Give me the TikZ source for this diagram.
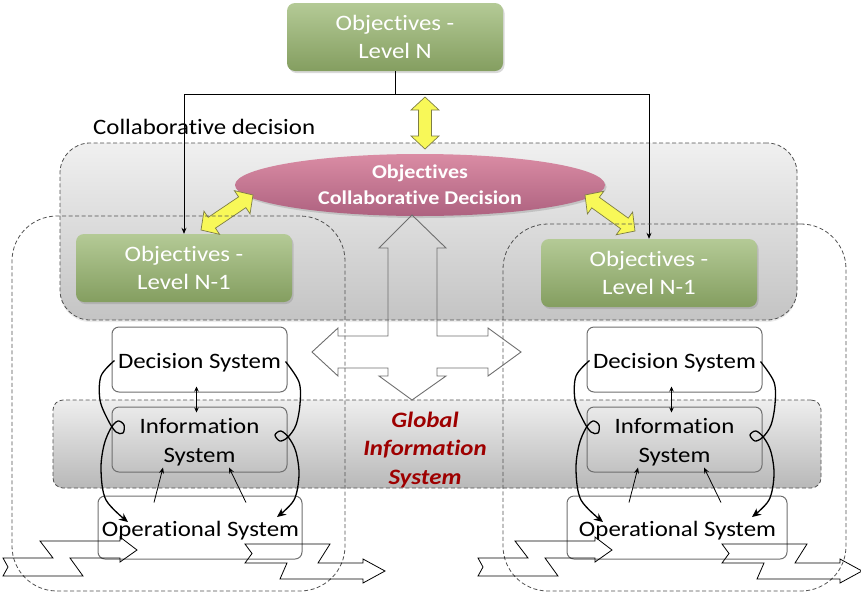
\documentclass[tikz,border=0pt]{standalone}
\usepackage{fontspec}
\setmainfont{Carlito}[FakeStretch=1.13, Ligatures=NoCommon]
\usetikzlibrary{shadows,arrows.meta,calc,shapes.geometric}
\definecolor{gtop}{RGB}{180,202,150}
\definecolor{gbot}{RGB}{132,158,96}
\definecolor{ptop}{RGB}{218,140,164}
\definecolor{pbot}{RGB}{174,98,128}
\definecolor{ctop}{RGB}{240,240,240}
\definecolor{cbot}{RGB}{196,196,196}
\definecolor{itop}{RGB}{238,238,238}
\definecolor{ibot}{RGB}{184,184,184}
\definecolor{dashc}{RGB}{80,80,80}
\definecolor{boxc}{RGB}{110,110,110}
\definecolor{yfill}{RGB}{248,248,88}
\definecolor{yedge}{RGB}{125,125,70}
\definecolor{gisred}{RGB}{158,0,0}
\definecolor{quadc}{RGB}{110,110,110}

\newcommand\myzigA[1]{\draw[zig, xshift=#1] (3,558) -- (8,567) -- (3,576) -- (83,576) -- (70,558) -- (120,558) -- (120,562) -- (137,550) -- (120,537) -- (120,541) -- (40,541) -- (53,558) -- cycle;}
\newcommand\myzigB[1]{\draw[zig, xshift=#1] (245,544) -- (252,553.5) -- (245,563) -- (287,563) -- (280,579) -- (363,579) -- (363,583) -- (385,571) -- (363,559) -- (363,563) -- (318,563) -- (330,544) -- cycle;}

\newcommand\mysub[4]{%
\begin{scope}[xshift=#2]
\node[sysbox, minimum width=175, minimum height=65] (#1ds) at (199.5,359.5) {};
\node[sysbox, minimum width=175, minimum height=65] (#1is) at (199.5,439.5) {};
\node[sysbox, minimum width=#4, minimum height=63] (#1os) at (#3,527.5) {};
\node[systext] (#1dst) at ($(#1ds)+(0,3)$) {Decision System};
\node[systext] (#1ist) at ($(#1is)+(0,3)$) {Information\\System};
\node[systext] (#1ost) at ($(#1os)+(0.5,3)$) {Operational System};
\draw[thinarr, {Stealth[length=5pt,width=4.5pt]}-{Stealth[length=5pt,width=4.5pt]}] ($(#1ds.south)+(-3,-6)$) -- ($(#1is.north)+(-3,6)$);
\draw[thinarr] ($(#1os.north)+(154-#3,7)$) -- ($(#1is.south)+(-36.5,-5)$);
\draw[thinarr] ($(#1os.north)+(246-#3,7)$) -- ($(#1is.south)+(29.5,-5)$);
\draw[curvy] plot[smooth, tension=0.55] coordinates {($(#1ds.west)+(3,1)$) (101,376) (100,400) (108,420) (116,432) (123,433) (124,425) (118,421) (111,428) (104,445) (101,470) (106,500) (128,522)};
\draw[curvy] plot[smooth, tension=0.55] coordinates {($(#1ds.east)+(-2,2)$) (299,382) (300,404) (296,425) (288,437) (280,441) (275,435) (281,431) (289,438) (296,452) (299,475) (294,500) (277,517)};
\end{scope}}

\begin{document}
\begin{tikzpicture}[x=1pt,y=-1pt,
  txt/.style={font=\fontsize{22}{28}\selectfont},
  greenbox/.style={rounded corners=8pt, top color=gtop, bottom color=gbot, text=white,
    minimum width=216, minimum height=68, inner sep=0, align=center, txt,
    drop shadow={opacity=0.3, shadow xshift=1.5pt, shadow yshift=-2pt}},
  dashline/.style={draw=dashc, line width=0.8pt, dash pattern=on 4pt off 2.5pt},
  collabbox/.style={dashline, rounded corners=30pt, top color=ctop, bottom color=cbot, inner sep=0,
    drop shadow={opacity=0.15, shadow xshift=0pt, shadow yshift=-2pt}},
  gisbox/.style={dashline, rounded corners=10pt, top color=itop, bottom color=ibot, inner sep=0},
  region/.style={dashline, rounded corners=45pt, inner sep=0},
  sysbox/.style={draw=boxc, line width=1pt, rounded corners=7pt, inner sep=0},
  systext/.style={align=center, inner sep=0, font=\fontsize{22}{29}\selectfont},
  thinarr/.style={line width=0.8pt, -{Stealth[length=6pt,width=5pt]}},
  curvy/.style={line width=1.3pt, -{Stealth[length=9pt,width=8pt]}},
  zig/.style={draw=black, line width=0.8pt, line join=miter},
  quad/.style={draw=quadc, line width=0.9pt, line join=miter},
  yarrow/.style={draw=yedge, line width=0.7pt, fill=yfill, line join=miter, to path={%
    let \p1=(\tikztostart), \p2=(\tikztotarget),
        \n1={atan2(\y2-\y1,\x2-\x1)}, \n2={veclen(\x2-\x1,\y2-\y1)} in
    {[shift={(\p1)}, rotate=\n1] (0pt,0pt) -- (13pt,14pt) -- (13pt,6.5pt) -- (\n2-13pt,6.5pt) -- (\n2-13pt,14pt) -- (\n2+0pt,0pt) -- (\n2-13pt,-14pt) -- (\n2-13pt,-6.5pt) -- (13pt,-6.5pt) -- (13pt,-14pt) -- cycle}}}
]
\useasboundingbox (0,0) rectangle (861,595);

% background regions
\node[collabbox, minimum width=737, minimum height=177] (collab) at (428.5,231.5) {};
\node[gisbox, minimum width=768, minimum height=88] (gis) at (437,444) {};

% label
\node[txt, anchor=west, inner sep=0] (cdlabel) at (93,127) {Collaborative decision};

% objectives
\node[greenbox] (topN) at (395,37) {Objectives -\\Level N};
\node[ellipse, top color=ptop, bottom color=pbot, minimum width=370, minimum height=62, inner sep=0,
  text=white, align=center, font=\bfseries\fontsize{19.5}{26}\selectfont,
  drop shadow={opacity=0.3, shadow xshift=1.5pt, shadow yshift=-2pt}] (obj) at (420,185) {Objectives\\Collaborative Decision};
\node[greenbox] (lN1) at (184,268) {Objectives -\\Level N-1};
\node[greenbox] (rN1) at (649,273) {Objectives -\\Level N-1};

% connectors from top
\draw[thinarr] (topN.south) -- ++(0,23) -| (lN1.north);
\draw[thinarr] (topN.south) -- ++(0,23) -| (rN1.north);

% yellow double arrows
\coordinate (ya1) at (425,97);
\coordinate (ya2) at (425,149);
\coordinate (yl1) at (253,195);
\coordinate (yl2) at (201,230);
\coordinate (yr1) at (585,195);
\coordinate (yr2) at (635,231);
\draw[yarrow] (ya1) to (ya2);
\draw[yarrow] (yl1) to (yl2);
\draw[yarrow] (yr1) to (yr2);

% enterprise regions
\node[region, minimum width=333, minimum height=375] (leftent) at (178.5,403.5) {};
\node[region, minimum width=343, minimum height=367] (rightent) at (674.5,407.5) {};

% four-way arrow
\draw[quad] (412,215) -- (446,248) -- (437,248) -- (437,336) -- (488,336) -- (488,328) -- (521,352)
  -- (488,376) -- (488,368) -- (437,368) -- (437,376) -- (446,376) -- (412,400) -- (379,376)
  -- (388,376) -- (388,368) -- (338,368) -- (338,376) -- (312,352) -- (338,328) -- (338,336)
  -- (388,336) -- (388,248) -- (379,248) -- cycle;

% subsystems
\mysub{L}{0}{200}{204}
\mysub{R}{475}{202}{220}

% flow arrows
\myzigA{0}
\myzigB{0}
\myzigA{475}
\myzigB{477}

% global information system label
\node[font=\bfseries\itshape\fontsize{22}{28}\selectfont, text=gisred, align=center] (gistext) at (425,450) {Global\\Information\\System};
\end{tikzpicture}
\end{document}
